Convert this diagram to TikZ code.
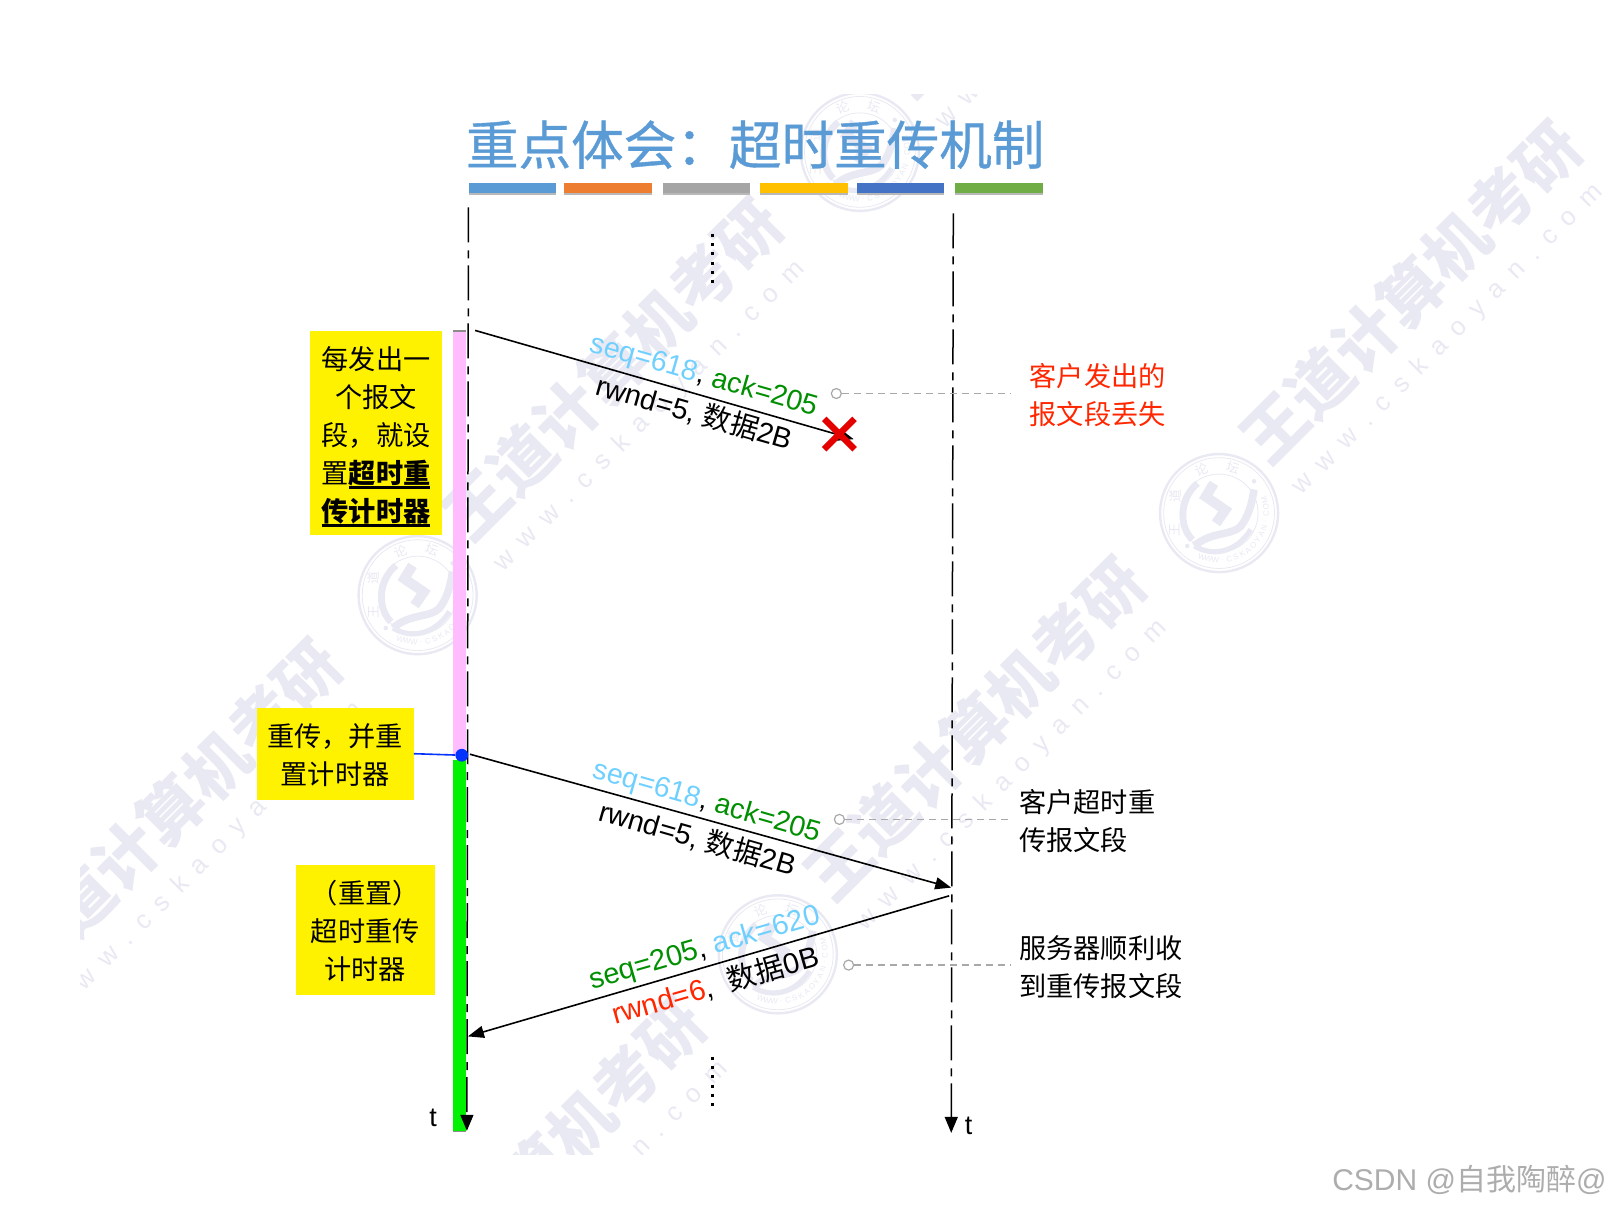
\documentclass[tikz,border=0pt]{standalone}
\usepackage{fontspec}
\usetikzlibrary{arrows.meta,shapes.misc}
\setmainfont{Liberation Sans}
\newfontfamily\cjk{Noto Sans CJK SC}
\newfontfamily\cjktitle[FakeBold=0.7]{Noto Sans CJK SC}
\newcommand{\zh}[1]{{\cjk #1}}
\newcommand{\thickul}[1]{\setbox0\hbox{#1}\rlap{\rule[-2.6pt]{\wd0}{1.3pt}}\box0}
\newcommand{\notebody}[3]{\raisebox{-#1}[\height][\depth]{\parbox{#2}{\centering #3}}}
\definecolor{wm}{HTML}{E8E9F2}
\definecolor{skyc}{HTML}{6FD0FF}
\definecolor{greenc}{HTML}{008F00}
\definecolor{redc}{HTML}{FF2600}
\definecolor{titlec}{HTML}{5B9BD5}
\definecolor{barO}{HTML}{ED7D31}
\definecolor{barG}{HTML}{A5A5A5}
\definecolor{barY}{HTML}{FFC000}
\definecolor{barB}{HTML}{4472C4}
\definecolor{barL}{HTML}{70AD47}
\definecolor{pinkc}{HTML}{FFBDFF}
\definecolor{limec}{HTML}{00F200}
\definecolor{bluec}{HTML}{0433FF}
\definecolor{guide}{HTML}{A8A8A8}
\tikzset{
  x=0.5131pt,y=-0.5131pt,
  note/.style={fill=yellow,inner sep=0pt,font=\fontsize{13.6}{19}\selectfont\cjk},
  side/.style={anchor=west,align=left,inner sep=0pt,font=\fontsize{13.6}{19}\selectfont\cjk},
  lbl/.style={inner sep=0pt,font=\fontsize{14.3}{16}\selectfont},
  lblwide/.style={inner sep=0pt,font=\fontsize{14.5}{16}\selectfont},
  life/.style={line width=0.75pt,dash pattern=on 17.5pt off 4pt on 4pt off 3.5pt,-{Stealth[length=8pt,width=6.5pt,inset=0pt]}},
  msg/.style={line width=0.8pt,-{Stealth[length=8pt,width=6pt,inset=0pt]}},
  dots/.style={line width=1.5pt,dash pattern=on 1.5pt off 3.1pt},
  guideline/.style={guide,line width=0.6pt,dash pattern=on 3.5pt off 2.5pt},
  ring/.style={circle,draw=guide,fill=white,line width=0.6pt,minimum size=5pt,inner sep=0pt},
  barshadow/.style={fill=black!28,draw=none},
  wmtext/.style={wm,rotate=45,inner sep=0pt,font=\fontsize{32}{32}\selectfont\cjk\bfseries},
  wmurl/.style={wm,rotate=45,inner sep=0pt,font=\fontsize{13}{13}\selectfont},
  tstamp/.pic={
    \draw[wm,line width=1.2pt] (0,0) circle (57.5);
    \draw[wm,line width=0.4pt] (0,0) circle (54);
    \draw[wm,line width=0.4pt] (0,0) circle (38);
    \foreach \c/\a/\r in {王/159/90,道/201/90,论/249/21,坛/288/-18}
      \node[wm,inner sep=0pt,font=\fontsize{6.5}{6.5}\selectfont\cjk,rotate=\r] at (\a:46) {\c};
    \foreach \c [count=\i] in {W,W,W,.,C,S,K,A,O,Y,A,N,.,C,O,M}
      \node[wm,inner sep=0pt,font=\fontsize{4}{4}\selectfont,rotate={90-(120-\i*8.5)}] at ({120-\i*8.5}:46) {\c};
    \draw[wm,line width=3.4pt] (-21,-29) .. controls (-38,-15) and (-40,12) .. (-26,26);
    \draw[wm,line width=3.8pt] (-24,32) .. controls (-8,18) and (12,22) .. (21,13) .. controls (28,4) and (32,-8) .. (34,-23);
    \draw[wm,line width=2.6pt] (-24,32) .. controls (-8,42) and (16,40) .. (31,16);
    \draw[wm,line width=5pt] (-5,-29) -- (-13,-16) -- (6,-3) -- (-3,10);
    \fill[wm] (34,-31) circle (2.2);
    \fill[wm] (-31,32) circle (2.2);
  }
}
\begin{document}
\begin{tikzpicture}
\useasboundingbox (0,0) rectangle (1568,1177);
% watermark layer
\begin{scope}
  \clip (78,92) rectangle (1568,1125);
  \foreach \cx/\cy in {597/360,1375/285,950/710,167/790,522/1140,1028/-72}{
    \node[wmtext] at (\cx,\cy) {王道计算机考研};
    \node[wmurl] at ({\cx+36},{\cy+46}) {w\hspace{6.6pt}w\hspace{6.6pt}w\hspace{6.6pt}.\hspace{6.6pt}c\hspace{6.6pt}s\hspace{6.6pt}k\hspace{6.6pt}a\hspace{6.6pt}o\hspace{6.6pt}y\hspace{6.6pt}a\hspace{6.6pt}n\hspace{6.6pt}.\hspace{6.6pt}c\hspace{6.6pt}o\hspace{6.6pt}m};
  }
  \foreach \sx/\sy in {838/148,407/580,1188/500,758/930}
    \pic at (\sx,\sy) {tstamp};
\end{scope}
% title
\node[inner sep=0pt,text=titlec,font=\fontsize{26.3}{30}\selectfont\cjktitle] (title) at (736,141) {重点体会：超时重传机制};
% title bars
\foreach \a/\b/\c in {457/542/titlec,550/635/barO,646/731/barG,741/826/barY,835/920/barB,931/1016/barL}{
  \fill[barshadow] (\a,180.5) rectangle (\b,190.5);
  \fill[\c] (\a,178) rectangle (\b,188);
}
% timers
\fill[pinkc] (441.8,322) rectangle (453.8,737);
\fill[limec] (441.8,741) rectangle (453.8,1103);
\draw[black!45,line width=0.6pt] (441.8,322.5) -- (453.8,322.5);
\draw[black!45,line width=0.6pt] (441.8,1103) -- (453.8,1103);
% lifelines
\coordinate (ltop) at (456.5,202);
\coordinate (lbot) at (455,1102);
\coordinate (rtop) at (929,208);
\coordinate (rbot) at (927,1104);
\draw[life] (ltop) -- (lbot);
\draw[life] (rtop) -- (rbot);
\node[inner sep=0pt,font=\fontsize{13.5}{16}\selectfont] (tl) at (422,1089) {t};
\node[inner sep=0pt,font=\fontsize{13.5}{16}\selectfont] (tr) at (944,1097) {t};
% dots
\coordinate (d1a) at (694,228); \coordinate (d1b) at (694,279);
\coordinate (d2a) at (694,1030); \coordinate (d2b) at (694,1081);
\draw[dots] (d1a) -- (d1b);
\draw[dots] (d2a) -- (d2b);
% notes
\node[note,minimum width=66.2pt,minimum height=102pt] (n1) at (366.5,421.5) {\notebody{2pt}{66.2pt}{每发出一\\个报文\\段，就设\\置\textbf{\thickul{超时重}}\\\textbf{\thickul{传计时器}}}};
\node[note,minimum width=78.5pt,minimum height=46pt] (n2) at (326.5,734.5) {\notebody{0.5pt}{78.5pt}{重传，并重\\置计时器}};
\node[note,minimum width=69.3pt,minimum height=65pt] (n3) at (356,906) {\notebody{0.5pt}{69.3pt}{（重置）\\超时重传\\计时器}};
% blue pointer
\node[circle,fill=bluec,minimum size=6.4pt,inner sep=0pt] (dot) at (450,736) {};
\draw[bluec,line width=0.8pt] (n2.east) -- (dot);
% messages
\coordinate (m1a) at (463,322); \coordinate (m1b) at (832,428);
\coordinate (m2a) at (458,735); \coordinate (m2b) at (927,865);
\coordinate (m3a) at (925,873); \coordinate (m3b) at (456,1010);
\draw[msg] (m1a) -- (m1b);
\draw[msg] (m2a) -- (m2b);
\draw[msg] (m3a) -- (m3b);
% lost marker
\node[cross out,draw=red!90!black,line width=3.2pt,minimum size=12pt,inner sep=0pt] (lost) at (818,423) {};
% labels
\node[lbl,rotate=-16] (l1a) at (686,367) {\textcolor{skyc}{seq=618}, \textcolor{greenc}{ack=205}};
\node[lbl,rotate=-16] (l1b) at (677,402) {rwnd=5, \zh{数据}2B};
\node[lbl,rotate=-16] (l2a) at (689,782) {\textcolor{skyc}{seq=618}, \textcolor{greenc}{ack=205}};
\node[lbl,rotate=-16] (l2b) at (680,817) {rwnd=5, \zh{数据}2B};
\node[lblwide,rotate=16] (l3a) at (687,925) {\textcolor{greenc}{seq=205}, \textcolor{skyc}{ack=620}};
\node[lblwide,rotate=16] (l3b) at (697,960) {\textcolor{redc}{rwnd=6}, \ \zh{数据}0B};
% annotations
\node[side,text=redc] (s1) at (1003,385) {客户发出的\\报文段丢失};
\node[side] (s2) at (993,800) {客户超时重\\传报文段};
\node[side] (s3) at (993,942.5) {服务器顺利收\\到重传报文段};
\node[ring] (r1) at (815,383.5) {};
\node[ring] (r2) at (818,798.5) {};
\node[ring] (r3) at (827,940.5) {};
\coordinate (e1) at (985,383.5); \coordinate (e2) at (985,798.5); \coordinate (e3) at (985,940.5);
\draw[guideline] (r1) -- (e1);
\draw[guideline] (r2) -- (e2);
\draw[guideline] (r3) -- (e3);
% credit
\node[anchor=east,inner sep=0pt,text=black!32,font=\fontsize{15}{18}\selectfont] (csdn) at (1566,1150) {CSDN @\zh{自我陶醉}@};
\end{tikzpicture}
\end{document}
